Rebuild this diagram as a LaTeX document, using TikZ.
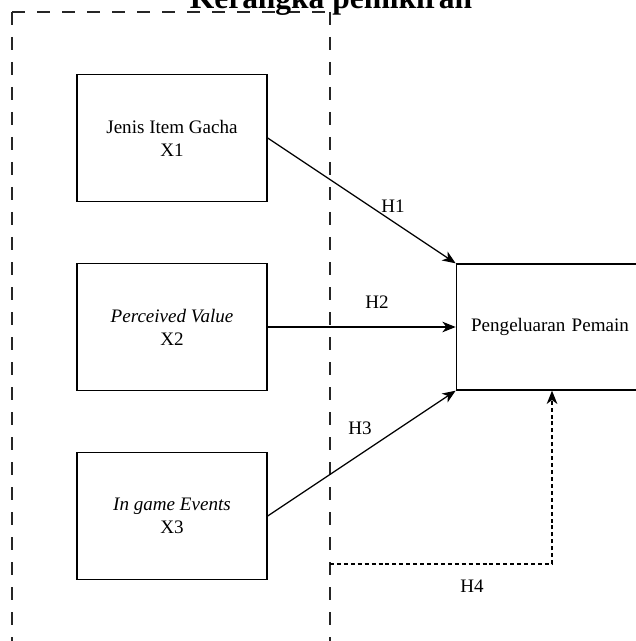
\documentclass[tikz,border=0pt]{standalone}
\usepackage{fontspec}
\setmainfont{Liberation Serif}
\usepackage{tikz}
\usetikzlibrary{positioning, arrows.meta, calc}

\begin{document}
\begin{tikzpicture}[
  x=0.75pt, y=-0.75pt,
  varbox/.style={draw, line width=1pt, minimum width=142.5pt, minimum height=95.25pt, align=center, inner sep=0pt, font=\fontsize{14.3}{17.3}\selectfont},
  hyp/.style={line width=0.9pt, -{Stealth[length=10pt, width=8pt, inset=3pt]}},
  hypdash/.style={hyp, dash pattern=on 3pt off 2.2pt},
  frame/.style={line width=1pt, dash pattern=on 9.75pt off 9pt, color=black!85},
  hlabel/.style={font=\fontsize{14.3}{17.3}\selectfont, inner sep=0pt},
]
  \useasboundingbox (0,0) rectangle (635,641);

  % independent variables
  \draw[frame] (12,12) -- (12,660);
  \draw[frame] (12,12) -- (330,12);
  \draw[frame] (330,12) -- (330,660);
  \node[font=\bfseries\fontsize{23.6}{28}\selectfont, anchor=base, inner sep=0pt] (title) at (331,9) {Kerangka pemikiran};

  \node[varbox] (x1) at (172,138) {Jenis Item Gacha\\X1};
  \node[varbox] (x2) at (172,327) {\textit{Perceived Value}\\X2};
  \node[varbox] (x3) at (172,516) {\textit{In game Events}\\X3};

  % dependent variable
  \node[varbox, minimum width=145pt, minimum height=94.5pt, text width=141pt] (y) at (553,327) {\hspace*{-4.5pt}Pengeluaran Pemain};

  % hypotheses
  \draw[hyp] (x1.east) -- (y.north west);
  \draw[hyp] (x2.east) -- (y.west);
  \draw[hyp] (x3.east) -- (y.south west);
  \coordinate (h4s) at (330,564);
  \draw[hypdash] (h4s) -| ($(y.south)+(-1,0)$);

  \node[hlabel] (lh1) at (393,206) {H1};
  \node[hlabel] (lh2) at (377,302) {H2};
  \node[hlabel] (lh3) at (360,428) {H3};
  \node[hlabel] (lh4) at (472,586) {H4};
\end{tikzpicture}
\end{document}
